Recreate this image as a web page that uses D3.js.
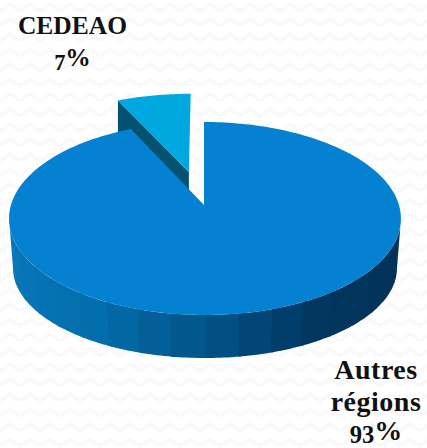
<!DOCTYPE html>
<html><head><meta charset="utf-8">
<script src="https://cdnjs.cloudflare.com/ajax/libs/d3/7.8.5/d3.min.js"></script>
<style>html,body{margin:0;padding:0;background:#fff}svg{display:block}
text{font-family:"Liberation Serif",serif;font-weight:700;fill:#111;text-anchor:middle}</style>
</head><body><svg id="c" width="427" height="448"></svg>
<script>
const categories = ["CEDEAO", "Autres régions"];
const values = [7, 93];
const percentLabels = ["7%", "93%"];
const sliceColors = ["#00a8df", "#0481d0"];
const cutColor = "#04526f";
const wallColors = ["#0a78bd","#0876b9","#0674b6","#0572b3","#0470b0","#036eac","#0267a3","#025f98","#02588d","#025083","#024676","#023e6b","#023762","#02355e","#02345c","#02335b","#02325a","#023159"];

const W = 427, H = 448;
const svg = d3.select("#c");
const defs = svg.append("defs");
const pat = defs.append("pattern").attr("id","bg").attr("width",20).attr("height",15).attr("patternUnits","userSpaceOnUse");
pat.append("path").attr("d","M0 11 L10 4 L20 11").attr("fill","none").attr("stroke","#f9f9f9").attr("stroke-width",3.5);
svg.append("rect").attr("width",W).attr("height",H).attr("fill","url(#bg)");

// Perspective projection of the unit disc onto the page
const cx = 204, cy = 205, bx = 194, ay = 94.6, q = 0.14;
const proj = (u, v) => { const d = 1 - q*v; return [cx + bx*u/d, cy + ay*v/d]; };
const polar = (a, r=1, ox=0, oy=0) => proj(ox + r*Math.sin(a), oy - r*Math.cos(a));
const rimShift = 1;
const rimPoint = a => { const p = polar(a); return [p[0] + rimShift*(1 - Math.abs(Math.cos(a/2))**8), p[1]]; };

const pieGen = d3.pie().sort(null).value(d => d).startAngle(-2*Math.PI*values[0]/100).endAngle(2*Math.PI*(1-values[0]/100));
const arcs = pieGen(values);
const line = d3.line();
const angles = (a0, a1, n=120) => d3.range(n+1).map(i => a0 + (a1-a0)*i/n);

// Exploded slice
const slice = arcs[0];
const mid = (slice.startAngle + slice.endAngle)/2;
const ex = 0.376, ox = ex*Math.sin(mid), oy = -ex*Math.cos(mid), sliceR = 1.04;
const wallDrop = 34;
const explodedApex = polar(0,0,ox,oy);
const explodedLeft = polar(slice.startAngle,sliceR,ox,oy);
svg.append("path").attr("fill",cutColor).attr("d", line([
  explodedLeft, explodedApex,
  [explodedApex[0], explodedApex[1]+wallDrop],
  [explodedLeft[0], explodedLeft[1]+wallDrop]
])+"Z");
svg.append("path").attr("fill",sliceColors[0]).attr("d",
  line([explodedApex, ...angles(slice.startAngle,slice.endAngle,30).map(a=>polar(a,sliceR,ox,oy))])+"Z");

// Main slice wall: front half of the rim, top ellipse down to base ellipse
const main = arcs[1];
const ecx = 205, ecy = 218.5, erx = 196, ery = 96.5;
const bcy = 268, brx = 192, bry = 90;
const topRim = t => [ecx + erx*Math.cos(t), ecy + ery*Math.sin(t)];
const baseRim = t => [ecx + brx*Math.cos(t), bcy + bry*Math.sin(t)];
const wn = wallColors.length;
const t0 = Math.PI, t1 = 0;
wallColors.forEach((col,i) => {
  const a = t0 + (t1-t0)*i/wn, b = t0 + (t1-t0)*(i+1)/wn - (i<wn-1?0.02:0);
  const ts = angles(a,b,10);
  svg.append("path").attr("fill",col).attr("d", line([...ts.map(topRim), ...ts.slice().reverse().map(baseRim)])+"Z");
});

// Main slice top
svg.append("path").attr("fill",sliceColors[1]).attr("d",
  line([polar(0,0), ...angles(main.startAngle,main.endAngle,240).map(rimPoint)])+"Z");

// Labels
function label(lines, pct, x, baselines, size, spacing, drop) {
  lines.forEach((l,i)=> svg.append("text").attr("x",x).attr("y",baselines[i])
    .attr("font-size",size).attr("letter-spacing",spacing).text(l));
  const py = baselines[lines.length];
  const digits = pct.replace("%","");
  const t = svg.append("text").attr("x",x).attr("y",py).attr("font-size",size);
  t.append("tspan").attr("font-size",size*0.88).attr("dy",drop).text(digits);
  t.append("tspan").attr("dy",-drop).text("%");
}
label([categories[0]], percentLabels[0], 72.5, [34,66], 25.5, 0, 4);
label(["Autres", "régions"], percentLabels[1], 376, [379,411,439.5], 28, 0.5, 3);
</script></body></html>
